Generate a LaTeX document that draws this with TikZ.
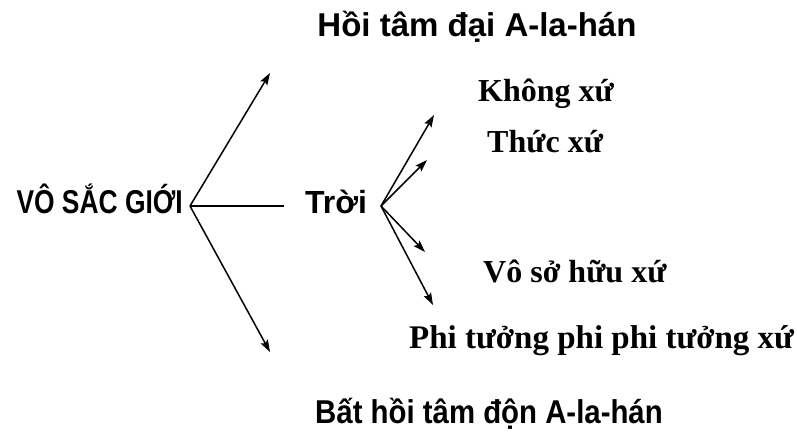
\documentclass[tikz,border=0pt]{standalone}
\usepackage{fontspec}
\setmainfont{Liberation Serif}
\newfontfamily\headfont{Liberation Sans}
\newfontfamily\narrowfont[FakeStretch=0.89]{Liberation Sans}
\newfontfamily\condfont[FakeStretch=0.8]{Liberation Sans}
\usetikzlibrary{arrows.meta,positioning}
\tikzset{
	sanslabel/.style={font=\headfont\bfseries\fontsize{33}{36}\selectfont, inner sep=0pt, anchor=base},
	serlabel/.style={font=\bfseries\fontsize{32}{35}\selectfont, inner sep=0pt, anchor=base west},
	line/.style={line width=1.5pt},
	arrow/.style={line width=1.5pt,-{Stealth[length=12pt,width=8pt,inset=2pt]}},
}

\begin{document}
\begin{tikzpicture}[x=1pt,y=-1pt]
\useasboundingbox (0,0) rectangle (797,433);
% left fan
\coordinate (fanL) at (190,206);
\node (vsg) [anchor=base east, inner sep=0pt, font=\condfont\bfseries\fontsize{33}{36}\selectfont] at (183,213) {VÔ SẮC GIỚI};
\coordinate (upL) at (270,73);
\coordinate (midL) at (284,206);
\coordinate (dnL) at (270,352);
\node (hoi) [sanslabel] at (477,37) {Hồi tâm đại A-la-hán};
\node (bat) [sanslabel, font=\narrowfont\bfseries\fontsize{33}{36}\selectfont] at (489,423) {Bất hồi tâm độn A-la-hán};
\node (troi) [sanslabel, font=\headfont\bfseries\fontsize{32}{35}\selectfont, anchor=base west] at (305,213) {Trời};
\draw [arrow] (fanL) -- (upL);
\draw [line] (fanL) -- (midL);
\draw [arrow] (fanL) -- (dnL);
% right fan
\coordinate (fanR) at (381,206);
\node (khong) [serlabel] at (478,102) {Không xứ};
\node (thuc) [serlabel] at (487,152) {Thức xứ};
\node (voso) [serlabel] at (483,282) {Vô sở hữu xứ};
\node (phi) [serlabel, font=\bfseries\fontsize{33}{36}\selectfont] at (409,348) {Phi tưởng phi phi tưởng xứ};
\foreach \n/\p in {a/{434,115},b/{427,160},c/{425,252},d/{433,305}}
\coordinate (r\n) at (\p);
\foreach \n in {a,b,c,d}
\draw [arrow] (fanR) -- (r\n);
\end{tikzpicture}
\end{document}
